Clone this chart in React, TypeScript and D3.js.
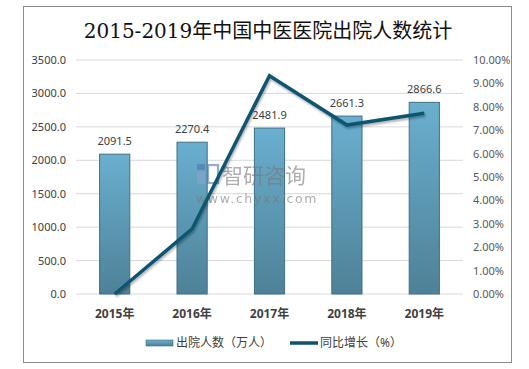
import React from "react";
import * as d3 from "d3";

// chart data
const years = ["2015年", "2016年", "2017年", "2018年", "2019年"];
const discharges = [2091.5, 2270.4, 2481.9, 2661.3, 2866.6];
const growth = [0, 2.78, 9.33, 7.22, 7.72];
const leftTicks = [0, 500, 1000, 1500, 2000, 2500, 3000, 3500];
const rightTicks = [0, 1, 2, 3, 4, 5, 6, 7, 8, 9, 10];

const W = 529;
const H = 369;
const plot = { left: 76, right: 463, top: 60, bottom: 294 };
const labelFont = "'Noto Sans', 'Noto Sans CJK SC', sans-serif";

export default function App() {
  const x = d3
    .scaleBand<string>()
    .domain(years)
    .range([plot.left, plot.right])
    .paddingInner(0.61)
    .paddingOuter(0.305);
  const yL = d3.scaleLinear().domain([0, 3500]).range([plot.bottom, plot.top]);
  const yR = d3.scaleLinear().domain([0, 10]).range([plot.bottom, plot.top]);

  const line = d3
    .line<number>()
    .x((_, i) => x(years[i])! + x.bandwidth() / 2)
    .y((d) => yR(d));

  return (
    <svg
      width={W}
      height={H}
      style={{ position: "absolute", left: 0, top: 0 }}
    >
      <defs>
        <linearGradient id="barGrad" x1="0" y1="0" x2="0" y2="1">
          <stop offset="0%" stopColor="#6aafcf" />
          <stop offset="100%" stopColor="#4e8197" />
        </linearGradient>
        <filter id="shadow" x="-10%" y="-10%" width="120%" height="130%">
          <feDropShadow dx="1" dy="2" stdDeviation="1.2" floodColor="#000" floodOpacity="0.3" />
        </filter>
      </defs>
      <rect x={0} y={0} width={W} height={H} fill="#fff" />
      <rect x={23.5} y={6.5} width={488} height={356} fill="#fff" stroke="#8c8c8c" strokeWidth={1} />

      <text
        x={268}
        y={38}
        textAnchor="middle"
        fontFamily="'DejaVu Serif', 'Liberation Serif', 'Noto Sans CJK SC', serif"
        fontSize={20}
        fill="#111"
      >
        2015-2019年中国中医医院出院人数统计
      </text>

      {leftTicks.map((t) => (
        <g key={t}>
          <line x1={plot.left} x2={plot.right} y1={yL(t)} y2={yL(t)} stroke="#d9d9d9" strokeWidth={1} />
          <text
            x={66}
            y={yL(t) + 4}
            textAnchor="end"
            fontFamily={labelFont}
            fontSize={11}
            fill="#404040"
          >
            {t.toFixed(1)}
          </text>
        </g>
      ))}
      {rightTicks.map((t) => (
        <text
          key={t}
          x={473}
          y={yR(t) + 4}
          fontFamily={labelFont}
          fontSize={11}
          fill="#595959"
        >
          {t.toFixed(2)}%
        </text>
      ))}

      {discharges.map((v, i) => (
        <g key={years[i]}>
          <rect
            x={x(years[i])!}
            y={yL(v)}
            width={x.bandwidth()}
            height={plot.bottom - yL(v)}
            fill="url(#barGrad)"
            stroke="#3f6f85"
            strokeWidth={1}
          />
          <text
            x={x(years[i])! + x.bandwidth() / 2}
            y={yL(v) - 9}
            textAnchor="middle"
            fontFamily={labelFont}
            fontSize={11}
            fill="#404040"
          >
            {v.toFixed(1)}
          </text>
          <text
            x={x(years[i])! + x.bandwidth() / 2}
            y={318}
            textAnchor="middle"
            fontFamily={labelFont}
            fontSize={12}
            fontWeight="bold"
            fill="#404040"
          >
            {years[i]}
          </text>
        </g>
      ))}

      {/* watermark sits over the bars */}
      <g opacity={0.6}>
        <rect x={197} y={164} width={8} height={6} fill="#4f76b0" />
        <rect x={197} y={172} width={8} height={12} fill="#8aa5cc" />
        <rect x={208} y={165} width={10} height={18} fill="none" stroke="#4f76b0" strokeWidth={2.2} />
        <text x={222} y={183} fontFamily="'Noto Sans CJK SC', sans-serif" fontSize={21} fill="#777">
          智研咨询
        </text>
        <text x={196} y={203} fontFamily="'DejaVu Sans', sans-serif" fontSize={12.5} fill="#777" letterSpacing={1.6}>
          www.chyxx.com
        </text>
      </g>

      <path
        d={line(growth) ?? ""}
        fill="none"
        stroke="#0d5570"
        strokeWidth={3.5}
        strokeLinejoin="miter"
        filter="url(#shadow)"
      />

      {/* legend */}
      <rect x={146} y={340} width={27} height={6} fill="url(#barGrad)" stroke="#3f6f85" strokeWidth={0.6} />
      <text x={176} y={347} fontFamily={labelFont} fontSize={12} fill="#404040">
        出院人数（万人）
      </text>
      <line x1={290} x2={318} y1={343} y2={343} stroke="#0d5570" strokeWidth={3.5} />
      <text x={320} y={347} fontFamily={labelFont} fontSize={12} fill="#404040">
        同比增长（%）
      </text>
    </svg>
  );
}
